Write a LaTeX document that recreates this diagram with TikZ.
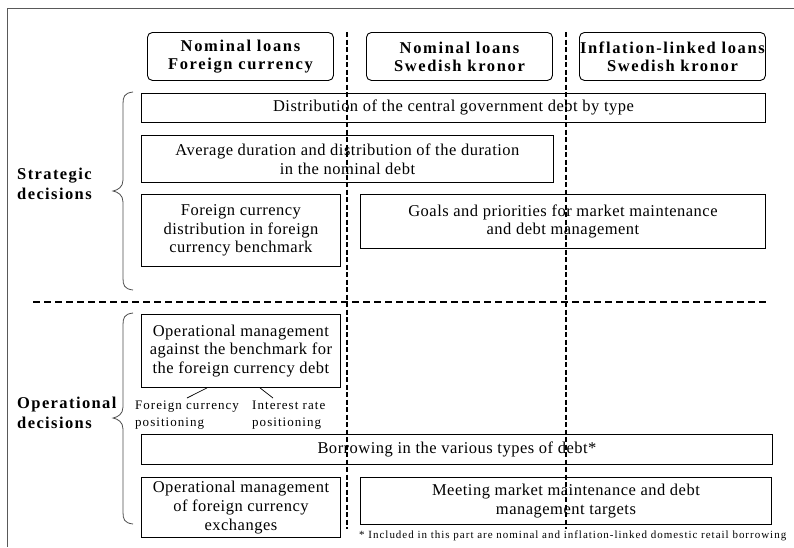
\documentclass[tikz,border=0pt]{standalone}
\usepackage{fontspec}
\setmainfont{Liberation Serif}
\newfontfamily\bodyfont[LetterSpace=3]{Liberation Serif}
\newfontfamily\headfont[LetterSpace=10]{Liberation Serif}
\newfontfamily\sidefont[LetterSpace=8.5]{Liberation Serif}
\newfontfamily\smallfont[LetterSpace=8]{Liberation Serif}
\newfontfamily\footfont[LetterSpace=9]{Liberation Serif}
\begin{document}
\begin{tikzpicture}[x=1pt,y=-1pt,
  box/.style={draw=black,line width=0.9pt,inner sep=0pt,align=center,anchor=north west,
    font=\bodyfont\fontsize{16.5}{18.7}\selectfont},
  headbox/.style={draw=black,line width=0.9pt,rounded corners=5pt,inner sep=0pt,align=center,anchor=north west,
    minimum width=186pt,minimum height=48pt,font=\headfont\bfseries\fontsize{16.5}{18}\selectfont},
  sidelabel/.style={anchor=west,align=left,inner sep=0pt,font=\sidefont\bfseries\fontsize{16.5}{19.5}\selectfont},
  smalllabel/.style={anchor=north west,align=left,inner sep=0pt,font=\smallfont\fontsize{13}{17}\selectfont},
  divider/.style={line width=1.6pt,dash pattern=on 5pt off 2.5pt},
  hdivider/.style={line width=1.5pt,dash pattern=on 7pt off 4pt},
  bracestyle/.style={draw=black!70,line width=0.8pt},
  frame/.style={draw=black!65,line width=0.9pt}
]
\useasboundingbox (0,0) rectangle (794,547);
% frame (top and left edges)
\draw[frame] (794,8) -- (7.5,8) -- (7.5,547);

% headers
\node[headbox] (h1) at (147,32) {Nominal loans\\Foreign currency};
\node[headbox] (h2) at (366,32) {Nominal loans\\Swedish kronor};
\node[headbox] (h3) at (579,32) {Inflation-linked loans\\Swedish kronor};

% strategic boxes
\node[box,minimum width=624pt,minimum height=29pt] (dist) at (141,93) {Distribution of the central government debt by type};
\node[box,minimum width=412pt,minimum height=47pt] (avg) at (141,135) {Average duration and distribution of the duration\\in the nominal debt};
\node[box,minimum width=199pt,minimum height=72pt] (fcd) at (141,194) {Foreign currency\\distribution in foreign\\currency benchmark};
\node[box,minimum width=405pt,minimum height=54pt] (goals) at (360,194) {Goals and priorities for market maintenance\\and debt management};

% operational boxes
\node[box,minimum width=199pt,minimum height=73pt] (opm) at (141,314) {Operational management\\against the benchmark for\\the foreign currency debt};
\node[smalllabel] (fcpos) at (135,401) {Foreign currency\\positioning};
\node[smalllabel] (irpos) at (252,401) {Interest rate\\positioning};
\coordinate (fcend) at (187,398);
\coordinate (irend) at (273,398);
\path (opm.south west) ++(66,0) coordinate (fcstart);
\path (opm.south west) ++(119,0) coordinate (irstart);
\draw[line width=0.7pt] (fcstart) -- (fcend);
\draw[line width=0.7pt] (irstart) -- (irend);
\node[box,minimum width=631pt,minimum height=30pt] (borrow) at (141,434) {Borrowing in the various types of debt*};
\node[box,minimum width=199pt,minimum height=60pt] (opfx) at (141,477) {Operational management\\of foreign currency\\exchanges};
\node[box,minimum width=411pt,minimum height=47pt] (meet) at (360,477) {Meeting market maintenance and debt\\management targets};

% footnote
\node[anchor=west,inner sep=0pt,font=\footfont\fontsize{11}{12}\selectfont] (foot) at (359,536) {* Included in this part are nominal and inflation-linked domestic retail borrowing};

% side labels and braces
\node[sidelabel] (strat) at (17,184) {Strategic\\decisions};
\node[sidelabel] (oper) at (17,413) {Operational\\decisions};
\coordinate (sb1) at (133,92);
\coordinate (sb2) at (133,290);
\coordinate (ob1) at (133,313);
\coordinate (ob2) at (133,524);
\draw[bracestyle] (sb1) .. controls (124,93) and (123,97) .. (123,104) -- (123,180) .. controls (123,187) and (118,190) .. (113,191)
   .. controls (118,192) and (123,195) .. (123,202) -- (123,278) .. controls (123,285) and (124,289) .. (sb2);
\draw[bracestyle] (ob1) .. controls (124,314) and (123,318) .. (123,325) -- (123,407) .. controls (123,414) and (118,417) .. (113,418)
   .. controls (118,419) and (123,422) .. (123,429) -- (123,512) .. controls (123,519) and (124,523) .. (ob2);

% dividers
\coordinate (v1t) at (347,32);
\coordinate (v1b) at (347,529);
\coordinate (v2t) at (566,32);
\coordinate (v2b) at (566,529);
\coordinate (hl) at (33,302);
\coordinate (hr) at (766,302);
\draw[divider] (v1t) -- (v1b);
\draw[divider] (v2t) -- (v2b);
\draw[hdivider] (hl) -- (hr);
\end{tikzpicture}
\end{document}
